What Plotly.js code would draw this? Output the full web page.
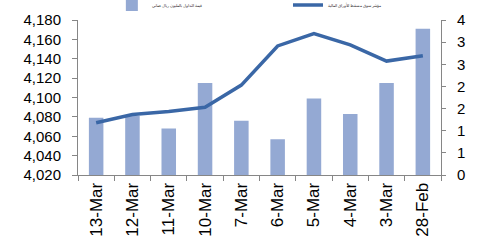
<!DOCTYPE html>
<html>
<head>
<meta charset="utf-8">
<script src="https://cdn.plot.ly/plotly-3.0.1.min.js"></script>
<style>html,body{margin:0;padding:0;background:#fff;}#chart{width:478px;height:246px;}</style>
</head>
<body>
<div id="chart"></div>
<script>
const categories = ["13-Mar","12-Mar","11-Mar","10-Mar","7-Mar","6-Mar","5-Mar","4-Mar","3-Mar","28-Feb"];
const barValues = [4079, 4081, 4068, 4115, 4076, 4057, 4099, 4083, 4115, 4171];
const lineValues = [1.35, 1.56, 1.64, 1.75, 2.32, 3.33, 3.65, 3.36, 2.94, 3.08];
const barName = "قيمة التداول بالمليون ريال عماني";
const lineName = "مؤشر سوق مسقط للأوراق المالية";

const font = "Arial, 'Liberation Sans', sans-serif";
const axisGray = "#868686";
const y2Ticks = [0,1,2,3,4,5,6,7].map(i => i * 4 / 7);

const traces = [
  {type: "bar", x: categories, y: barValues, name: barName, marker: {color: "#94a9d3"}, width: 0.4, yaxis: "y", legend: "legend"},
  {type: "scatter", mode: "lines", x: categories, y: lineValues, name: lineName, line: {color: "#3a67a6", width: 3.5}, yaxis: "y2", legend: "legend2"}
];

const legendBase = {orientation: "h", xref: "container", yref: "paper", xanchor: "left", y: 1.19, yanchor: "top", font: {size: 4, family: font, color: "#333"}, itemwidth: 30, bgcolor: "rgba(0,0,0,0)"};

const layout = {
  width: 478, height: 246,
  margin: {l: 78, r: 37, t: 20, b: 71, pad: 0, autoexpand: false},
  paper_bgcolor: "#fff", plot_bgcolor: "#fff",
  showlegend: true,
  legend: Object.assign({}, legendBase, {x: 0.234}),
  legend2: Object.assign({}, legendBase, {x: 0.6025}),
  xaxis: {
    type: "category", showgrid: false, showline: true, linecolor: axisGray, linewidth: 1,
    ticks: "outside", tickson: "boundaries", ticklen: 5, tickcolor: axisGray,
    tickangle: -90, tickfont: {size: 17, family: font, color: "#000"}, zeroline: false
  },
  yaxis: {
    range: [4020, 4180], dtick: 20, tick0: 4020, tickformat: ",d", showgrid: false, zeroline: false,
    showline: true, linecolor: axisGray, ticks: "outside", ticklen: 5, tickcolor: axisGray,
    tickfont: {size: 15, family: font, color: "#000"}, ticklabelstandoff: 8
  },
  yaxis2: {
    overlaying: "y", side: "right", range: [0, 4], tickmode: "array", tickvals: y2Ticks, tickformat: ".0f",
    showgrid: false, zeroline: false, showline: true, linecolor: axisGray, ticks: "outside", ticklen: 4, tickcolor: axisGray,
    tickfont: {size: 15, family: font, color: "#000"}, ticklabelstandoff: 8
  }
};

Plotly.newPlot("chart", traces, layout, {displayModeBar: false, staticPlot: true});
</script>
</body>
</html>
